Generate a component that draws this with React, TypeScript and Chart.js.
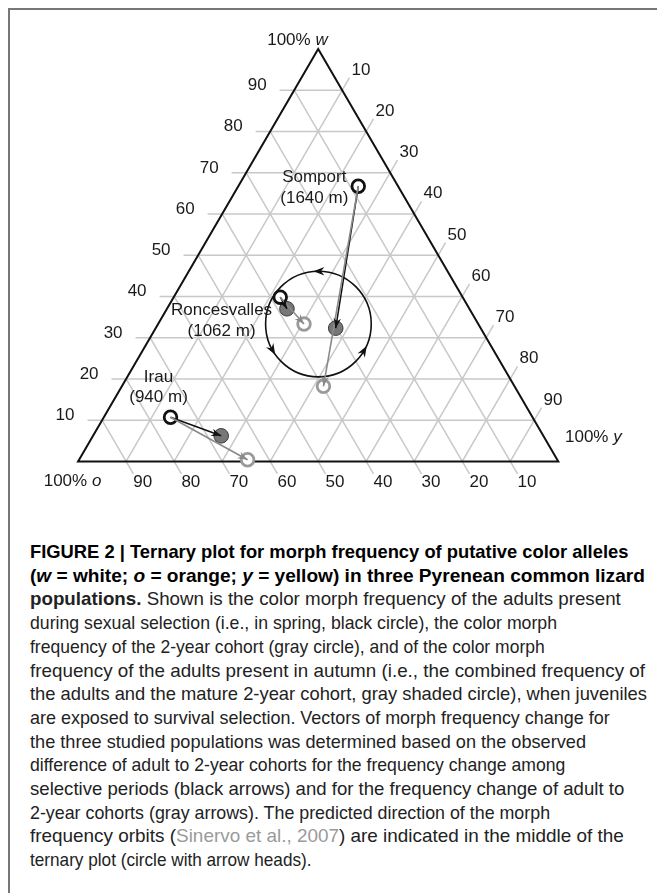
import React, { useEffect, useRef } from 'react';
import { Chart, registerables } from 'chart.js';

Chart.register(...registerables);

// ---------- data (percent of white w, orange o, yellow y) ----------
const TICKS = [10, 20, 30, 40, 50, 60, 70, 80, 90];
const POPULATIONS = ['Irau', 'Roncesvalles', 'Somport'];
const ALTITUDES = ['(940 m)', '(1062 m)', '(1640 m)'];

// adults in spring (black open circle)
const SPRING_W = [10.7, 39.8, 66.7];
const SPRING_O = [75.4, 38.0, 8.3];
const SPRING_Y = [13.9, 22.2, 25.0];
// 2-year cohort (gray open circle)
const COHORT_W = [0.4, 33.3, 18.2];
const COHORT_O = [64.5, 36.3, 39.8];
const COHORT_Y = [35.1, 30.4, 42.0];
// adults in autumn (gray shaded circle)
const AUTUMN_W = [6.2, 37.0, 32.3];
const AUTUMN_O = [67.1, 38.0, 30.2];
const AUTUMN_Y = [26.7, 25.0, 37.5];

// predicted orbit (centre w, o, y; radius in percent of a side; arrowhead angles)
const ORBIT_CENTER_W = 33.3;
const ORBIT_CENTER_O = 33.3;
const ORBIT_CENTER_Y = 33.4;
const ORBIT_RADIUS = 11;
const ORBIT_ARROW_ANGLES = [90, 210, 330];

// ---------- layout ----------
const CW = 639;
const CH = 500;
const PX = 494.3; // pixels per side of the triangle
const OX = 60.7; // canvas x of the 100% o corner
const OY = 459; // canvas y of the bottom edge
const XMIN = -OX / PX;
const XMAX = (CW - OX) / PX;
const YMIN = -(CH - OY) / PX;
const YMAX = OY / PX;
const S = Math.sqrt(3) / 2;
const EXT = 0.0303; // tick extension beyond the triangle (side units)

const FONT = '17px "Liberation Sans", Arial, sans-serif';
const FONT_I = 'italic 17px "Liberation Sans", Arial, sans-serif';
const LABEL_OFFSETS = [
  [-12, -41.6],
  [-58.7, 12],
  [-44, -10],
];
const LABEL_GAP = 20.5;

type P = { x: number; y: number };
const cart = (w: number, y: number): P => ({ x: (y + w / 2) / 100, y: (w * S) / 100 });

function wLine(c: number): P[] {
  return [
    { x: c / 200 - EXT, y: (c / 100) * S },
    { x: 1 - c / 200, y: (c / 100) * S },
  ];
}
function yLine(c: number): P[] {
  const e = cart(100 - c, c);
  return [{ x: c / 100, y: 0 }, { x: e.x + EXT * 0.5, y: e.y + EXT * S }];
}
function oLine(c: number): P[] {
  const l = cart(100 - c, 0);
  const b = { x: (100 - c) / 100, y: 0 };
  return [l, { x: b.x + EXT * 0.5, y: b.y - EXT * S }];
}

function arrowHead(ctx: CanvasRenderingContext2D, tip: P, ang: number, len: number, wid: number, color: string) {
  ctx.save();
  ctx.translate(tip.x, tip.y);
  ctx.rotate(ang);
  ctx.beginPath();
  ctx.moveTo(0, 0);
  ctx.lineTo(-len, -wid / 2);
  ctx.lineTo(-len * 0.68, 0);
  ctx.lineTo(-len, wid / 2);
  ctx.closePath();
  ctx.fillStyle = color;
  ctx.fill();
  ctx.restore();
}

function drawParts(
  ctx: CanvasRenderingContext2D,
  parts: { t: string; i?: boolean }[],
  x: number,
  cy: number,
  align: 'left' | 'right' | 'center'
) {
  let total = 0;
  const widths = parts.map((p) => {
    ctx.font = p.i ? FONT_I : FONT;
    const w = ctx.measureText(p.t).width;
    total += w;
    return w;
  });
  let sx = align === 'left' ? x : align === 'right' ? x - total : x - total / 2;
  ctx.textAlign = 'left';
  ctx.textBaseline = 'alphabetic';
  const base = cy + 6.1;
  parts.forEach((p, k) => {
    ctx.font = p.i ? FONT_I : FONT;
    ctx.fillText(p.t, sx, base);
    sx += widths[k];
  });
}

const decor = {
  id: 'ternaryDecor',
  afterDatasetsDraw(chart: any) {
    const ctx: CanvasRenderingContext2D = chart.ctx;
    const xs = chart.scales.x;
    const ys = chart.scales.y;
    const px = (p: P): P => ({ x: xs.getPixelForValue(p.x), y: ys.getPixelForValue(p.y) });
    ctx.save();

    // arrowheads of the population vectors
    for (let i = 0; i < POPULATIONS.length; i++) {
      const a = px(cart(SPRING_W[i], SPRING_Y[i]));
      const b = px(cart(AUTUMN_W[i], AUTUMN_Y[i]));
      const c = px(cart(COHORT_W[i], COHORT_Y[i]));
      arrowHead(ctx, b, Math.atan2(b.y - a.y, b.x - a.x), 10, 7.5, '#111');
      arrowHead(ctx, c, Math.atan2(c.y - a.y, c.x - a.x), 10, 7.5, '#8a8a8a');
    }

    // orbit arrowheads
    const oc = px(cart(ORBIT_CENTER_W, ORBIT_CENTER_Y));
    const r = Math.abs(xs.getPixelForValue(ORBIT_RADIUS / 100) - xs.getPixelForValue(0));
    ORBIT_ARROW_ANGLES.forEach((deg) => {
      const t = (deg * Math.PI) / 180;
      const p = { x: oc.x + r * Math.cos(t), y: oc.y - r * Math.sin(t) };
      const dir = Math.atan2(-Math.cos(t), -Math.sin(t));
      const tip = { x: p.x + Math.cos(dir) * 5, y: p.y + Math.sin(dir) * 5 };
      arrowHead(ctx, tip, dir, 11, 8.5, '#111');
    });

    ctx.fillStyle = '#1a1a1a';
    // tick labels
    TICKS.forEach((c) => {
      const w0 = px(wLine(c)[0]);
      drawParts(ctx, [{ t: String(c) }], w0.x - 13, w0.y - 6, 'right');
      const y1 = px(yLine(c)[1]);
      drawParts(ctx, [{ t: String(c) }], y1.x + 2, y1.y - 9, 'left');
      const o1 = px(oLine(c)[1]);
      drawParts(ctx, [{ t: String(c) }], o1.x + 0, o1.y + 7, 'left');
    });

    // corner labels
    const top = px({ x: 0.5, y: S });
    const bl = px({ x: 0, y: 0 });
    const br = px({ x: 1, y: 0 });
    drawParts(ctx, [{ t: '100% ' }, { t: 'w', i: true }], top.x + 9.5, top.y - 9.5, 'right');
    drawParts(ctx, [{ t: '100% ' }, { t: 'y', i: true }], br.x + 6.7, br.y - 25.7, 'left');
    drawParts(ctx, [{ t: '100% ' }, { t: 'o', i: true }], bl.x + 23.3, bl.y + 19, 'right');

    // population labels
    POPULATIONS.forEach((name, i) => {
      const a = px(cart(SPRING_W[i], SPRING_Y[i]));
      const [dx, dy] = LABEL_OFFSETS[i];
      drawParts(ctx, [{ t: name }], a.x + dx, a.y + dy, 'center');
      drawParts(ctx, [{ t: ALTITUDES[i] }], a.x + dx, a.y + dy + LABEL_GAP, 'center');
    });
    ctx.restore();
  },
};

function buildConfig(): any {
  const datasets: any[] = [];
  const line = (data: P[], color: string, width: number, order: number) => ({
    data,
    showLine: true,
    borderColor: color,
    borderWidth: width,
    pointRadius: 0,
    pointHoverRadius: 0,
    fill: false,
    tension: 0,
    order,
  });
  TICKS.forEach((c) => {
    datasets.push(line(wLine(c), '#c8c8c8', 1.5, 10));
    datasets.push(line(yLine(c), '#c8c8c8', 1.5, 10));
    datasets.push(line(oLine(c), '#c8c8c8', 1.5, 10));
  });
  // triangle
  datasets.push({
    ...line(
      [
        { x: 0, y: 0 },
        { x: 1, y: 0 },
        { x: 0.5, y: S },
        { x: 0, y: 0 },
        { x: 1, y: 0 },
      ],
      '#111',
      2,
      9
    ),
    borderJoinStyle: 'miter',
  });
  // orbit circle
  datasets.push({
    data: [cart(ORBIT_CENTER_W, ORBIT_CENTER_Y)],
    pointStyle: 'circle',
    pointRadius: (c: any) => {
      const xs = c.chart.scales.x;
      return Math.abs(xs.getPixelForValue(ORBIT_RADIUS / 100) - xs.getPixelForValue(0));
    },
    pointBorderWidth: 1.6,
    pointBorderColor: '#111',
    pointBackgroundColor: 'rgba(0,0,0,0)',
    order: 8,
  });
  // markers
  datasets.push({
    data: SPRING_W.map((w, i) => cart(w, SPRING_Y[i])),
    pointRadius: 6.3,
    pointBorderWidth: 2.8,
    pointBorderColor: '#111',
    pointBackgroundColor: '#fff',
    order: 5,
  });
  datasets.push({
    data: COHORT_W.map((w, i) => cart(w, COHORT_Y[i])),
    pointRadius: 6.3,
    pointBorderWidth: 2.8,
    pointBorderColor: '#9a9a9a',
    pointBackgroundColor: '#fff',
    order: 5,
  });
  datasets.push({
    data: AUTUMN_W.map((w, i) => cart(w, AUTUMN_Y[i])),
    pointRadius: 7.3,
    pointBorderWidth: 1,
    pointBorderColor: '#3a3a3a',
    pointBackgroundColor: '#777',
    order: 5,
  });
  // vectors
  POPULATIONS.forEach((_, i) => {
    datasets.push(
      line([cart(SPRING_W[i], SPRING_Y[i]), cart(AUTUMN_W[i], AUTUMN_Y[i])], '#111', 1.5, 2)
    );
  });
  POPULATIONS.forEach((_, i) => {
    datasets.push(
      line([cart(SPRING_W[i], SPRING_Y[i]), cart(COHORT_W[i], COHORT_Y[i])], '#8a8a8a', 1.6, 1)
    );
  });

  return {
    type: 'scatter',
    data: { datasets },
    options: {
      responsive: false,
      maintainAspectRatio: false,
      animation: false,
      events: [],
      layout: { padding: 0 },
      plugins: {
        legend: { display: false },
        tooltip: { enabled: false },
        title: { display: false },
      },
      scales: {
        x: { type: 'linear', display: false, min: XMIN, max: XMAX, bounds: 'data', grace: 0 },
        y: { type: 'linear', display: false, min: YMIN, max: YMAX, bounds: 'data', grace: 0 },
      },
    },
    plugins: [decor],
  };
}

const GRAY_LINK = '#9a9a9a';
const CAPTION: React.ReactNode[] = [
  <b>FIGURE 2 | Ternary plot for morph frequency of putative color alleles</b>,
  <b>
    (<i>w</i> = white; <i>o</i> = orange; <i>y</i> = yellow) in three Pyrenean common lizard
  </b>,
  <>
    <b>populations.</b> Shown is the color morph frequency of the adults present
  </>,
  <>during sexual selection (i.e., in spring, black circle), the color morph</>,
  <>frequency of the 2-year cohort (gray circle), and of the color morph</>,
  <>frequency of the adults present in autumn (i.e., the combined frequency of</>,
  <>the adults and the mature 2-year cohort, gray shaded circle), when juveniles</>,
  <>are exposed to survival selection. Vectors of morph frequency change for</>,
  <>the three studied populations was determined based on the observed</>,
  <>difference of adult to 2-year cohorts for the frequency change among</>,
  <>selective periods (black arrows) and for the frequency change of adult to</>,
  <>2-year cohorts (gray arrows). The predicted direction of the morph</>,
  <>
    frequency orbits (<span style={{ color: GRAY_LINK }}>Sinervo et al., 2007</span>) are indicated in the middle of the
  </>,
  <>ternary plot (circle with arrow heads).</>,
];
// right edge of each caption line in the reference layout
const CAP_RIGHT = [628, 645, 621, 557, 545, 645, 647, 610, 586, 565, 624, 550, 624, 312];
const CAP_LEFT = 30;
const CAP_FIRST = 552;
const CAP_STEP = 23.7;

export default function App() {
  const canvasRef = useRef<HTMLCanvasElement>(null);
  const capRef = useRef<HTMLDivElement>(null);

  useEffect(() => {
    const chart = new Chart(canvasRef.current as HTMLCanvasElement, buildConfig());
    const root = capRef.current;
    if (root) {
      const lines = Array.from(root.querySelectorAll<HTMLElement>('[data-line]'));
      lines.forEach((el, i) => {
        const w = (el.firstElementChild as HTMLElement).offsetWidth;
        const f = w > 0 ? (CAP_RIGHT[i] - CAP_LEFT) / w : 1;
        el.style.transform = `scaleX(${f})`;
      });
    }
    return () => chart.destroy();
  }, []);

  return (
    <div
      style={{
        position: 'absolute',
        left: 8,
        top: 8,
        width: 649,
        height: 885,
        boxSizing: 'border-box',
        borderLeft: '2px solid #777',
        borderTop: '2px solid #777',
        background: '#fff',
        overflow: 'hidden',
      }}
    >
      <canvas
        ref={canvasRef}
        width={CW}
        height={CH}
        style={{ position: 'absolute', left: 0, top: 0, width: CW, height: CH, display: 'block' }}
      />
      <div ref={capRef}>
        {CAPTION.map((node, i) => (
          <div
            key={i}
            data-line={i}
            style={{
              position: 'absolute',
              left: CAP_LEFT - 10,
              top: CAP_FIRST - 10 - 12 + i * CAP_STEP,
              height: 24,
              lineHeight: '24px',
              whiteSpace: 'nowrap',
              transformOrigin: '0 50%',
              fontFamily: '"Liberation Sans", Arial, sans-serif',
              fontSize: 19,
              color: i < 2 ? '#000' : '#222',
              fontWeight: i < 2 ? 700 : 400,
            }}
          >
            <span>{node}</span>
          </div>
        ))}
      </div>
    </div>
  );
}
